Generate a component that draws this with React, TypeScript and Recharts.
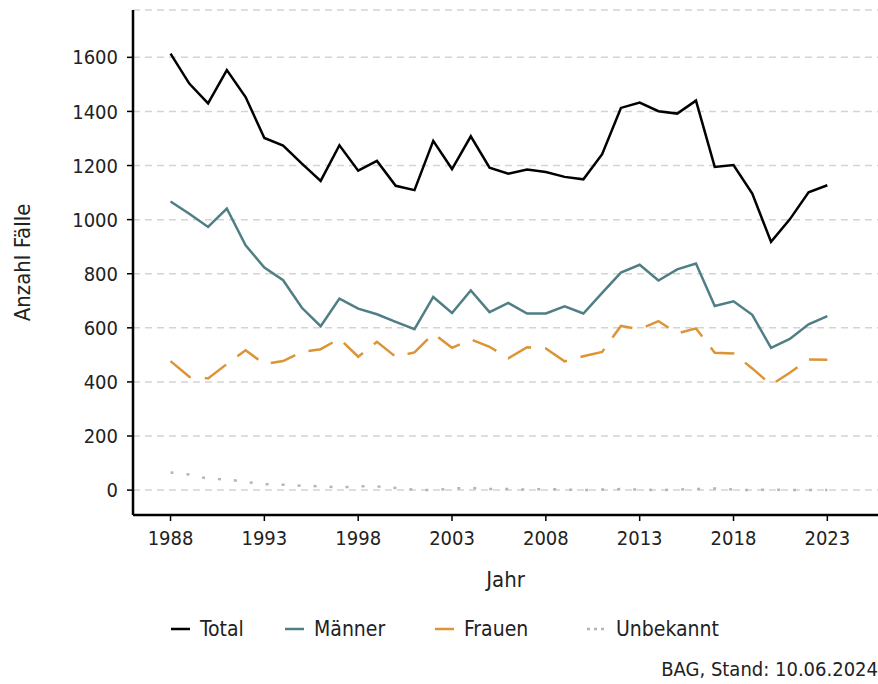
import { CartesianGrid, Line, LineChart, XAxis, YAxis } from "recharts";

const years = [
  1988, 1989, 1990, 1991, 1992, 1993, 1994, 1995, 1996, 1997, 1998, 1999,
  2000, 2001, 2002, 2003, 2004, 2005, 2006, 2007, 2008, 2009, 2010, 2011,
  2012, 2013, 2014, 2015, 2016, 2017, 2018, 2019, 2020, 2021, 2022, 2023,
];

const total = [
  1614, 1503, 1430, 1553, 1453, 1302, 1274, 1207, 1143, 1275, 1181, 1217,
  1125, 1109, 1291, 1187, 1308, 1192, 1170, 1185, 1176, 1158, 1149, 1242,
  1413, 1433, 1401, 1392, 1440, 1195, 1202, 1096, 918, 1001, 1101, 1127,
];

const maenner = [
  1067, 1022, 973, 1041, 905, 823, 776, 674, 606, 708, 671, 650,
  622, 595, 714, 655, 738, 658, 692, 653, 653, 679, 653, 729,
  804, 833, 775, 816, 838, 681, 698, 648, 526, 559, 613, 643,
];

const frauen = [
  477, 419, 413, 466, 517, 466, 477, 511, 521, 560, 493, 548,
  493, 509, 579, 526, 557, 530, 487, 528, 524, 476, 495, 511,
  607, 595, 625, 579, 598, 508, 505, 450, 389, 434, 483, 482,
];

const unbekannt = [
  65, 58, 42, 40, 30, 22, 20, 16, 14, 10, 14, 14,
  8, 2, 0, 6, 8, 4, 4, 2, 4, 2, 0, 2,
  4, 2, 0, 2, 4, 6, 2, 0, 2, 0, 0, 0,
];

const xTicks = [1988, 1993, 1998, 2003, 2008, 2013, 2018, 2023];
const yTicks = [0, 200, 400, 600, 800, 1000, 1200, 1400, 1600];

const data = years.map((jahr, i) => ({
  jahr,
  total: total[i],
  maenner: maenner[i],
  frauen: frauen[i],
  unbekannt: unbekannt[i],
}));

const font = '"Liberation Sans Narrow", "DejaVu Sans Condensed", "Noto Sans", sans-serif';
const textColor = "#222";

const legendItems = [
  { label: "Total", color: "#000000", dash: undefined, x: 171 },
  { label: "Männer", color: "#4f7f85", dash: undefined, x: 285 },
  { label: "Frauen", color: "#dc9435", dash: undefined, x: 435 },
  { label: "Unbekannt", color: "#b5b5b5", dash: "3 4", x: 587 },
];

export default function App() {
  return (
    <div style={{ position: "relative", width: 878, height: 684, fontFamily: font }}>
      <style>{`body { margin: 0; }`}</style>
      <LineChart
        width={878}
        height={684}
        data={data}
        margin={{ top: 10, right: 0, left: 0, bottom: 0 }}
      >
        <CartesianGrid
          vertical={false}
          stroke="#d4d4d4"
          strokeWidth={1.5}
          strokeDasharray="7 5"
        />
        <XAxis
          dataKey="jahr"
          type="number"
          domain={[1986, 2025.7]}
          ticks={xTicks}
          allowDataOverflow
          height={169}
          tickSize={6}
          tickMargin={10}
          axisLine={{ stroke: "#000", strokeWidth: 2.5 }}
          tickLine={{ stroke: "#000", strokeWidth: 1.5 }}
          tick={{ fill: textColor, fontSize: 20, fontFamily: font }}
          label={{
            value: "Jahr",
            position: "insideTop",
            offset: 56,
            fill: textColor,
            fontSize: 22,
            fontFamily: font,
          }}
        />
        <YAxis
          type="number"
          domain={[-92, 1775]}
          ticks={yTicks}
          allowDataOverflow
          width={133}
          tickSize={6}
          tickMargin={9}
          axisLine={{ stroke: "#000", strokeWidth: 2.5 }}
          tickLine={{ stroke: "#000", strokeWidth: 1.5 }}
          tick={{ fill: textColor, fontSize: 20, fontFamily: font }}
          label={{
            value: "Anzahl Fälle",
            angle: -90,
            position: "insideLeft",
            offset: 22,
            fill: textColor,
            fontSize: 22,
            fontFamily: font,
            style: { textAnchor: "middle" },
          }}
        />
        <Line
          dataKey="unbekannt"
          stroke="#b5b5b5"
          strokeWidth={2.5}
          strokeDasharray="3 13"
          dot={false}
          isAnimationActive={false}
        />
        <Line
          dataKey="frauen"
          stroke="#dc9435"
          strokeWidth={2.5}
          strokeDasharray="26 14"
          dot={false}
          isAnimationActive={false}
        />
        <Line
          dataKey="maenner"
          stroke="#4f7f85"
          strokeWidth={2.5}
          dot={false}
          isAnimationActive={false}
        />
        <Line
          dataKey="total"
          stroke="#000000"
          strokeWidth={2.5}
          dot={false}
          isAnimationActive={false}
        />
      </LineChart>
      {legendItems.map((item) => (
        <div
          key={item.label}
          style={{
            position: "absolute",
            left: item.x,
            top: 616,
            display: "flex",
            alignItems: "center",
            color: textColor,
            fontSize: 21,
            lineHeight: "26px",
          }}
        >
          <svg width={19} height={10} style={{ marginRight: 10 }}>
            <line
              x1={0}
              y1={5}
              x2={19}
              y2={5}
              stroke={item.color}
              strokeWidth={2.5}
              strokeDasharray={item.dash}
            />
          </svg>
          <span>{item.label}</span>
        </div>
      ))}
      <div
        style={{
          position: "absolute",
          right: 0,
          top: 656,
          color: textColor,
          fontSize: 20,
          lineHeight: "26px",
        }}
      >
        BAG, Stand: 10.06.2024
      </div>
    </div>
  );
}
